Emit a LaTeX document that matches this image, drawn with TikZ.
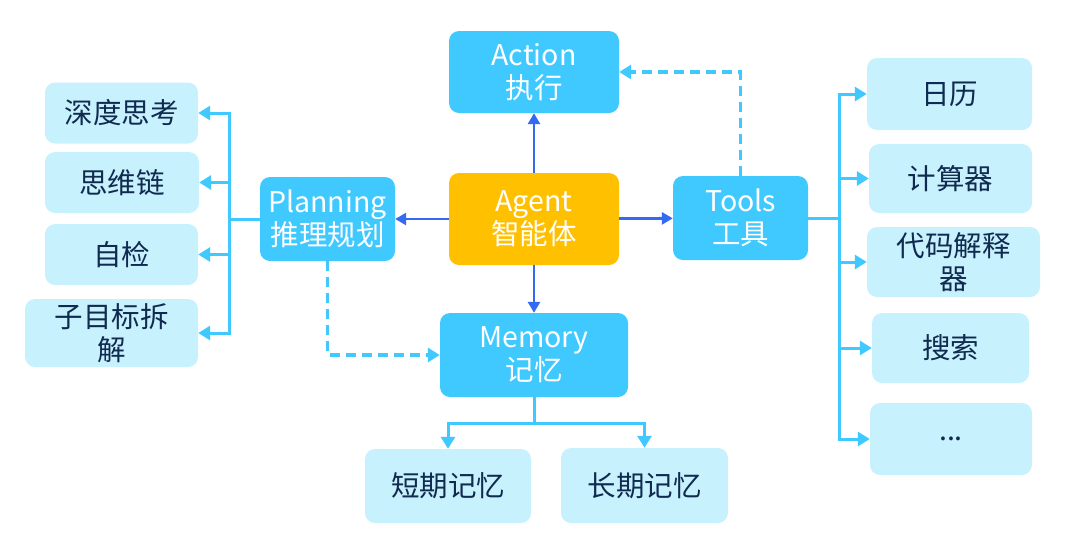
\documentclass[tikz,border=0pt]{standalone}
\usepackage{fontspec}
\setmainfont{Noto Sans CJK SC}
\usetikzlibrary{arrows.meta}
\definecolor{mainblue}{HTML}{40C9FF}
\definecolor{subblue}{HTML}{C8F1FE}
\definecolor{coreorange}{HTML}{FFC000}
\definecolor{coreblue}{HTML}{3469F2}
\definecolor{subtext}{HTML}{102A50}
\begin{document}
\begin{tikzpicture}[x=1pt,y=-1pt,
		box/.style={rounded corners=10pt,inner sep=0pt,align=center,font=\fontsize{28.5}{33}\selectfont},
		main/.style={box,fill=mainblue,text=white},
		sub/.style={box,fill=subblue,text=subtext},
		link/.style={draw=mainblue,line width=3pt,-{Triangle[length=12pt,width=14pt]}},
		dlink/.style={link,line width=3.8pt,dash pattern=on 10pt off 6pt},
		core/.style={draw=coreblue,line width=2.8pt,-{Triangle[length=11pt,width=12pt]}}]
				\useasboundingbox (0,0) rectangle (1071,547);
				
				\node (act) at (534,72) [main,minimum width=170pt,minimum height=82pt] {Action\\执行};
				\node (agt) at (534,219) [box,fill=coreorange,text=white,minimum width=170pt,minimum height=92pt] {Agent\\智能体};
				\node (pln) at (327.5,219) [main,minimum width=135pt,minimum height=84pt] {Planning\\推理规划};
				\node (tls) at (740.5,218) [main,minimum width=135pt,minimum height=84pt] {Tools\\工具};
				\node (mem) at (534,355) [main,minimum width=188pt,minimum height=84pt] {Memory\\记忆};
				
				\node (s1) at (121.5,113) [sub,minimum width=153pt,minimum height=61pt] {深度思考};
				\node (s2) at (122,182.5) [sub,minimum width=154pt,minimum height=61pt] {思维链};
				\node (s3) at (121.5,254.5) [sub,minimum width=153pt,minimum height=61pt] {自检};
				\node (s4) at (111.5,333) [sub,minimum width=173pt,minimum height=68pt] {子目标拆\\解};
				
				\node (t1) at (949.5,94) [sub,minimum width=165pt,minimum height=72pt] {日历};
				\node (t2) at (950.5,178.5) [sub,minimum width=163pt,minimum height=69pt] {计算器};
				\node (t3) at (953.5,262) [sub,minimum width=173pt,minimum height=70pt] {代码解释\\器};
				\node (t4) at (950.5,348) [sub,minimum width=157pt,minimum height=70pt] {搜索};
				\node (t5) at (951,439) [sub,minimum width=162pt,minimum height=72pt] {...};
				
				\node (m1) at (448,486) [sub,minimum width=166pt,minimum height=74pt] {短期记忆};
				\node (m2) at (644.5,485.5) [sub,minimum width=167pt,minimum height=75pt] {长期记忆};
				
				\draw[core] (agt) -- (act);
				\draw[core] (agt) -- (pln);
				\draw[core] (agt) -- (tls);
				\draw[core] (agt) -- (mem);
				
				\draw[dlink] (pln.south) |- (mem.west);
				\draw[dlink] (tls.north) |- (act.east);
				
				\coordinate (jp) at (229,219);
				\coordinate (jt) at (839,218);
				\coordinate (jm) at (534,423);
				\foreach \s in {s1,s2,s3,s4}
					\draw[link] (pln.west) -- (jp) |- (\s.east);
				\foreach \t in {t1,t2,t3,t4,t5}
					\draw[link] (tls.east) -- (jt) |- (\t.west);
				\foreach \m in {m1,m2}
					\draw[link] (mem.south) -- (jm) -| (\m.north);
				\end{tikzpicture}
\end{document}
